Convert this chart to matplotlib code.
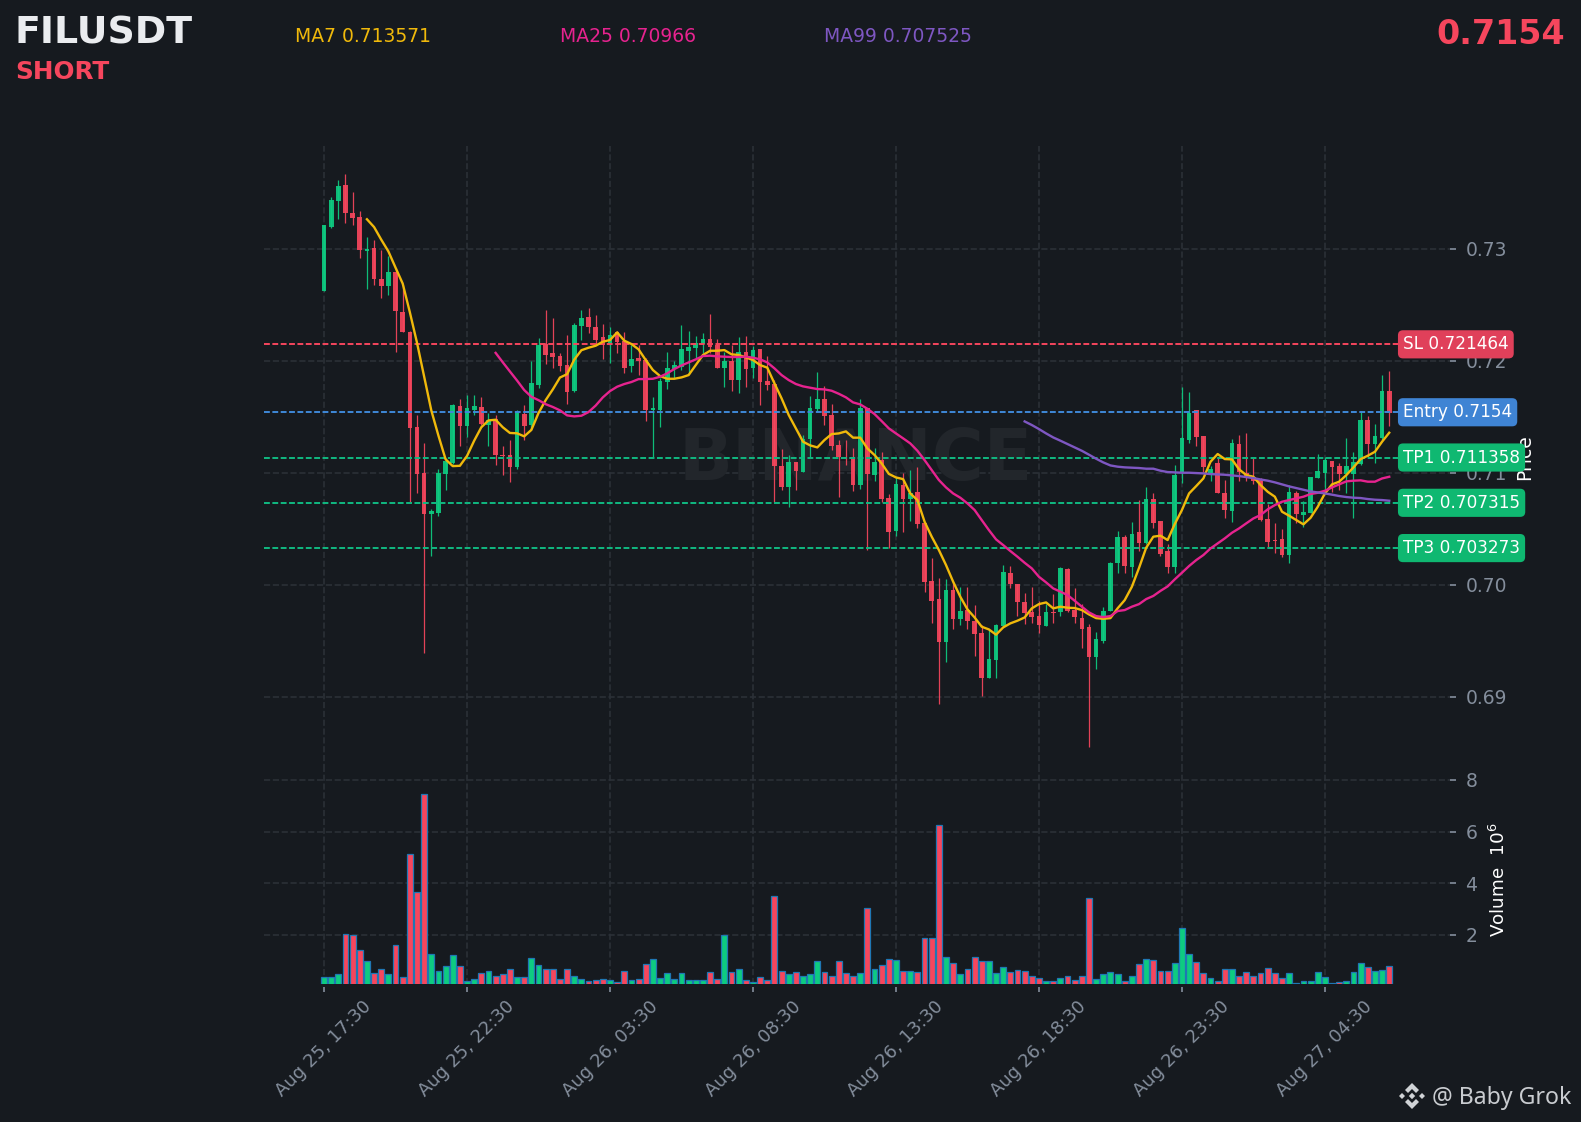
import matplotlib
matplotlib.use("Agg")
import matplotlib.pyplot as plt
from matplotlib.patches import Polygon

W, H = 1581, 1122

# 15m candles
opens = [.72626, .73196, .73423, .73570, .73320, .73284, .72976, .73006, .72731, .72671,
         .72795, .72436, .72257, .71409, .70999, .70628, .70643, .70993, .71089, .71596,
         .71418, .71560, .71587, .71430, .71476, .71156, .71159, .71053, .71524, .71427,
         .71784, .72149, .72070, .72043, .71962, .71729, .72312, .72390, .72303, .72211,
         .72149, .72259, .72176, .71952, .72024, .72006, .71560, .71560, .71810, .71926,
         .71943, .72086, .72113, .72149, .72193, .72140, .71935, .71997, .71827, .72077,
         .71935, .72104, .71818, .71792, .71060, .70872, .71095, .71006, .71301, .71568,
         .71658, .71515, .71247, .71143, .71140, .70890, .71577, .70979, .71113, .70774,
         .70479, .70890, .70765, .70827, .70551, .70033, .69872, .69488, .69952, .69694,
         .69774, .69676, .69569, .69167, .69327, .69631, .70104, .70006, .69845, .69756,
         .69720, .69631, .69753, .69756, .70140, .69774, .69702, .69622, .69354, .69497,
         .69765, .70194, .70426, .70158, .70470, .70372, .70765, .70568, .70301, .70158,
         .71006, .71292, .71560, .71327, .70976, .71086, .70818, .70658, .71256, .71000,
         .70964, .70943, .70586, .70396, .70405, .70265, .70818, .70622, .70640, .70952,
         .70997, .71104, .71060, .70988, .70988, .71077, .71470, .71256, .71310, .71729]
closes = [.73214, .73435, .73561, .73323, .73278, .72985, .73000, .72734, .72671, .72792,
          .72448, .72260, .71403, .70993, .70628, .70658, .70999, .71104, .71606, .71418,
          .71578, .71596, .71436, .71467, .71159, .71153, .71053, .71542, .71418, .71802,
          .72143, .72055, .72037, .71956, .71723, .72321, .72381, .72303, .72185, .72140,
          .72229, .72170, .71938, .72015, .71997, .71560, .71577, .71818, .71935, .71961,
          .72104, .72122, .72158, .72193, .72122, .71935, .71997, .71827, .72077, .71926,
          .72095, .71810, .71783, .71060, .70872, .71095, .71015, .71301, .71577, .71658,
          .71506, .71238, .71140, .71137, .70890, .71577, .70988, .71095, .70765, .70470,
          .70899, .70765, .70818, .70542, .70024, .69854, .69488, .69952, .69694, .69765,
          .69676, .69560, .69167, .69336, .69640, .70113, .70006, .69845, .69747, .69711,
          .69640, .69756, .69750, .70149, .69765, .69711, .69604, .69354, .69515, .69765,
          .70194, .70426, .70167, .70452, .70372, .70765, .70554, .70274, .70158, .70979,
          .71310, .71533, .71321, .71051, .71030, .70818, .70667, .71265, .71009, .70970,
          .70929, .70577, .70381, .70393, .70265, .70827, .70631, .70649, .70961, .71015,
          .71113, .71051, .70988, .71060, .71095, .71470, .71256, .71327, .71729, .71530]
highs = [.73214, .73459, .73616, .73670, .73504, .73338, .73103, .73078, .72991, .72931,
         .72825, .72674, .72267, .71512, .71264, .70676, .71029, .71135, .71618, .71657,
         .71693, .71693, .71678, .71533, .71512, .71240, .71292, .71557, .71602, .71995,
         .72206, .72454, .72378, .72070, .72230, .72336, .72454, .72472, .72405, .72324,
         .72304, .72265, .72259, .72140, .72140, .72021, .71679, .71842, .72074, .72000,
         .72318, .72268, .72223, .72244, .72417, .72190, .72080, .72140, .72214, .72220,
         .72131, .72104, .72042, .71827, .71208, .71158, .71095, .71336, .71685, .71896,
         .71774, .71610, .71292, .71292, .71217, .71655, .71577, .71217, .71182, .70810,
         .70964, .71000, .71024, .71048, .70551, .70235, .70057, .70048, .70027, .69982,
         .69976, .69815, .69640, .69595, .69646, .70173, .70167, .70006, .69923, .69976,
         .69857, .69827, .69917, .70161, .70146, .69967, .69827, .69649, .69574, .69798,
         .70199, .70479, .70443, .70557, .70756, .70875, .70815, .70568, .70360, .71068,
         .71768, .71717, .71560, .71327, .71060, .71143, .70935, .71298, .71336, .71351,
         .71134, .70949, .70720, .70548, .70497, .70890, .70836, .70747, .70961, .71167,
         .71143, .71104, .71083, .71307, .71187, .71554, .71509, .71434, .71872, .71908]
lows = [.72626, .73181, .73263, .73232, .73211, .72915, .72644, .72674, .72559, .72589,
        .72076, .72260, .70742, .70818, .69393, .70253, .70612, .70842, .71074, .71237,
        .71316, .71512, .71430, .71240, .71065, .70978, .70914, .71029, .71295, .71391,
        .71753, .71974, .71931, .71904, .71612, .71717, .72185, .72251, .72146, .72012,
        .71976, .72065, .71887, .71902, .71872, .71464, .71143, .71405, .71744, .71842,
        .71917, .71878, .72021, .72065, .72065, .71935, .71768, .71732, .71714, .71768,
        .71842, .71607, .71738, .70741, .70845, .70696, .70845, .71006, .71143, .71545,
        .71426, .71202, .70780, .71068, .70839, .70851, .70310, .70929, .70738, .70330,
        .70435, .70470, .70571, .70503, .69938, .69661, .68932, .69313, .69601, .69640,
        .69601, .69366, .69009, .69167, .69164, .69625, .69973, .69720, .69649, .69661,
        .69565, .69631, .69661, .69723, .69759, .69661, .69438, .68554, .69250, .69479,
        .69765, .70107, .70107, .70071, .70304, .70366, .70503, .70256, .70101, .70107,
        .70911, .71262, .71241, .71009, .70926, .70818, .70598, .70557, .70929, .70929,
        .70896, .70571, .70333, .70280, .70244, .70196, .70554, .70518, .70637, .70952,
        .70815, .70830, .70845, .70815, .70592, .71068, .71143, .71083, .71292, .71417]
volumes = [.37, .37, .46, 2.01, 1.97, 1.42, .99, .50, .68, .46,
           1.59, .35, 5.14, 3.67, 7.44, 1.24, .58, .77, 1.20, .77,
           .22, .29, .50, .58, .41, .46, .68, .37, .37, 1.08,
           .81, .68, .68, .29, .68, .41, .29, .22, .25, .29,
           .25, .15, .58, .25, .29, .85, 1.04, .33, .50, .29,
           .50, .25, .25, .25, .54, .29, 1.97, .54, .68, .25,
           .18, .37, .25, 3.49, .58, .46, .54, .41, .46, .97,
           .54, .41, .97, .50, .41, .50, 3.02, .66, .81, 1.04,
           1.00, .58, .58, .54, 1.86, 1.86, 6.24, 1.12, .89, .46,
           .68, 1.12, .97, .97, .50, .73, .54, .62, .58, .41,
           .33, .22, .22, .33, .41, .25, .41, 3.41, .29, .46,
           .54, .46, .22, .41, .85, 1.04, 1.00, .58, .58, .89,
           2.25, 1.24, .93, .50, .33, .22, .66, .66, .41, .54,
           .41, .50, .69, .50, .33, .50, .14, .22, .22, .54,
           .37, .14, .18, .22, .54, .89, .73, .58, .62, .77]

# moving averages as drawn, each starts at its own candle
ma7_start = 6
ma7 = [.73263, .73193, .73081, .72976, .72831, .72689, .72433, .72161, .71859, .71557,
       .71331, .71120, .71059, .71062, .71150, .71286, .71406, .71467, .71473, .71406,
       .71355, .71352, .71325, .71382, .71533, .71648, .71744, .71850, .71880, .72010,
       .72094, .72116, .72134, .72170, .72185, .72253, .72179, .72149, .72101, .72006,
       .71917, .71863, .71839, .71839, .71851, .71872, .71961, .72051, .72089, .72089,
       .72095, .72057, .72051, .72030, .72006, .71961, .71938, .71798, .71664, .71515,
       .71396, .71277, .71244, .71226, .71292, .71345, .71351, .71369, .71313, .71313,
       .71217, .71158, .71083, .70990, .70958, .70943, .70815, .70756, .70563, .70429,
       .70310, .70176, .70027, .69893, .69780, .69708, .69625, .69601, .69554, .69619,
       .69655, .69679, .69708, .69789, .69827, .69842, .69789, .69804, .69795, .69792,
       .69774, .69735, .69702, .69696, .69702, .69789, .69863, .69982, .70150, .70330,
       .70429, .70438, .70399, .70542, .70667, .70815, .70881, .70949, .71098, .71167,
       .71122, .71119, .71030, .70979, .70964, .70890, .70830, .70786, .70652, .70616,
       .70577, .70539, .70598, .70696, .70815, .70896, .70920, .70979, .71048, .71122,
       .71152, .71187, .71277, .71357]
ma25_start = 24
ma25 = [.72070, .71986, .71904, .71823, .71738, .71678, .71648, .71612, .71587, .71557,
        .71512, .71503, .71509, .71542, .71600, .71673, .71729, .71768, .71792, .71810,
        .71836, .71836, .71839, .71857, .71887, .71926, .71958, .71985, .72012, .72042,
        .72045, .72039, .72036, .72033, .72033, .72036, .72027, .72012, .71985, .71932,
        .71872, .71827, .71792, .71771, .71759, .71747, .71744, .71732, .71705, .71673,
        .71628, .71610, .71571, .71524, .71461, .71396, .71351, .71307, .71262, .71196,
        .71113, .71024, .70935, .70869, .70815, .70777, .70726, .70667, .70577, .70488,
        .70405, .70354, .70301, .70250, .70196, .70146, .70071, .70021, .69967, .69938,
        .69908, .69857, .69804, .69753, .69720, .69711, .69720, .69765, .69774, .69804,
        .69827, .69872, .69900, .69945, .69985, .70048, .70107, .70167, .70220, .70265,
        .70324, .70369, .70414, .70464, .70503, .70548, .70592, .70622, .70673, .70711,
        .70741, .70756, .70771, .70786, .70810, .70821, .70839, .70869, .70896, .70923,
        .70929, .70932, .70920, .70920, .70949, .70964]
ma99_start = 98
ma99 = [.71458, .71426, .71390, .71351, .71315, .71286, .71256, .71226, .71196, .71161,
        .71125, .71092, .71065, .71054, .71048, .71045, .71042, .71036, .71036, .71018,
        .71006, .71003, .71000, .71000, .70997, .70994, .70988, .70985, .70982, .70976,
        .70970, .70961, .70952, .70940, .70929, .70914, .70896, .70878, .70863, .70848,
        .70833, .70824, .70815, .70804, .70792, .70783, .70777, .70774, .70765, .70759,
        .70756, .70750]

date_labels = ["Aug 25, 17:30", "Aug 25, 22:30", "Aug 26, 03:30", "Aug 26, 08:30",
               "Aug 26, 13:30", "Aug 26, 18:30", "Aug 26, 23:30", "Aug 27, 04:30"]
price_ticks = [0.69, 0.70, 0.71, 0.72, 0.73]
price_tick_labels = ["0.69", "0.70", "0.71", "0.72", "0.73"]
volume_ticks = [2, 4, 6, 8]
level_names = ["SL 0.721464", "Entry 0.7154", "TP1 0.711358", "TP2 0.707315", "TP3 0.703273"]
level_values = [0.721464, 0.7154, 0.711358, 0.707315, 0.703273]

BG = "#161a1f"
GREEN = "#0ecb81"
RED = "#f6465d"
GRID = "#2b3037"
TICK = "#848e9c"
level_colors = ["#f6465d", "#3f88d8", "#10b981", "#10b981", "#10b981"]
level_box_colors = ["#e0405a", "#3f84d4", "#0fb871", "#0fb871", "#0fb871"]


def px_axes(fig, left, top, right, bottom):
    return fig.add_axes([left / W, 1 - bottom / H, (right - left) / W, (bottom - top) / H])


def style_axes(ax):
    ax.set_facecolor(BG)
    for s in ax.spines.values():
        s.set_visible(False)
    ax.yaxis.tick_right()
    ax.tick_params(axis="y", colors=TICK, labelsize=13.5, length=4.3, width=1.2, pad=6.7)
    ax.tick_params(axis="x", colors=TICK, length=3.6, width=1.2, pad=4)
    ax.set_xticks(x_ticks)
    ax.grid(True, color=GRID, linestyle="--", linewidth=1.2)
    ax.set_axisbelow(True)
    ax.set_xlim(-8.4, 157.5)


fig = plt.figure(figsize=(W / 100, H / 100), dpi=100, facecolor=BG)
x = list(range(len(closes)))
x_ticks = list(range(0, 160, 20))
up = [c >= o for o, c in zip(opens, closes)]
colors = [GREEN if u else RED for u in up]

ax = px_axes(fig, 264, 146, 1450, 770)
vol = px_axes(fig, 264, 770, 1450, 984)
# moving the spine resets the ticks, so it goes before the styling
vol.spines["bottom"].set_position(("outward", 2))
style_axes(ax)
style_axes(vol)

ax.set_ylim(0.68346, 0.73917)
ax.set_yticks(price_ticks)
ax.set_yticklabels(price_tick_labels)
ax.tick_params(axis="x", length=0, labelbottom=False)

ax.text(0.4992, 0.4962, "BINANCE", transform=ax.transAxes, color="#22262b", fontsize=51,
        fontweight="bold", ha="center", va="center", zorder=1)

# candles
ax.vlines(x, lows, highs, colors=colors, linewidth=0.9, alpha=0.92, zorder=2)
bottoms = [min(o, c) for o, c in zip(opens, closes)]
heights = [max(abs(c - o), 0.00003) for o, c in zip(opens, closes)]
ax.bar(x, heights, width=0.65, bottom=bottoms, color=colors, linewidth=0, alpha=0.92, zorder=2.2)

trans = ax.get_yaxis_transform()
for name, val, lc, bc in zip(level_names, level_values, level_colors, level_box_colors):
    ax.plot([0, 0.956], [val, val], transform=trans, color=lc, linewidth=1.4,
            linestyle=(0, (3.0, 1.3)), zorder=3)
    ax.text(0.9604, val, name, transform=trans, color="white", fontsize=12.2, va="center",
            ha="left", zorder=6, clip_on=False,
            bbox=dict(boxstyle="round,pad=0.3,rounding_size=0.3", facecolor=bc, edgecolor="none"))

ax.plot(range(ma7_start, ma7_start + len(ma7)), ma7, color="#f0b90b", linewidth=1.7, zorder=4)
ax.plot(range(ma25_start, ma25_start + len(ma25)), ma25, color="#e6238f", linewidth=1.7, zorder=4)
ax.plot(range(ma99_start, ma99_start + len(ma99)), ma99, color="#7e57c2", linewidth=1.7, zorder=4)

ax.set_ylabel("Price", color="white", fontsize=13.5)
ax.yaxis.set_label_position("right")
ax.yaxis.set_label_coords(1.0547, 0.501)

# volume panel
vol.bar(x, volumes, width=0.82, color=colors, edgecolor="#1f77b4", linewidth=0.9, zorder=2)
vol.set_ylim(0.087, 8.386)
vol.set_yticks(volume_ticks)
vol.set_xticklabels(date_labels, rotation=45, fontsize=13)
vol.set_ylabel("Volume  $10^6$", color="white", fontsize=13.2)
vol.yaxis.set_label_position("right")
vol.yaxis.set_label_coords(1.0328, 0.488)

# header
fig.text(15 / W, 1 - 34 / H, "FILUSDT", color="#eaecef", fontsize=27.3, fontweight="bold", va="center")
fig.text(15 / W, 1 - 72 / H, "SHORT", color=RED, fontsize=17.8, fontweight="bold", va="center")
fig.text(295 / W, 1 - 37 / H, "MA7 0.713571", color="#f0b90b", fontsize=13.5, va="center")
fig.text(560 / W, 1 - 37 / H, "MA25 0.70966", color="#e6238f", fontsize=13.5, va="center")
fig.text(824 / W, 1 - 37 / H, "MA99 0.707525", color="#7e57c2", fontsize=13.5, va="center")
fig.text(1565 / W, 1 - 34 / H, "0.7154", color=RED, fontsize=24, fontweight="bold", va="center", ha="right")

# footer with logo
fig.text(1432 / W, 1 - 1098 / H, "@ Baby Grok", color="#c9ccd0", fontsize=16.6, va="center",
         family=["Noto Sans", "DejaVu Sans"])
logo_x, logo_y = 1412, 1096
top_part = [(0, 13), (7, 6), (4, 3), (0, 7), (-4, 3), (-7, 6)]
parts = [
    top_part,
    [(px, -py) for px, py in top_part],
    [(0, 3.2), (3.2, 0), (0, -3.2), (-3.2, 0)],
    [(-10, 3), (-7, 0), (-10, -3), (-13, 0)],
    [(10, 3), (13, 0), (10, -3), (7, 0)],
]
for part in parts:
    pts = [((logo_x + px) / W, 1 - (logo_y - py) / H) for px, py in part]
    fig.add_artist(Polygon(pts, closed=True, facecolor="#d0d3d6", edgecolor="none",
                           transform=fig.transFigure))

fig.savefig("out.png", dpi=100, facecolor=BG)
